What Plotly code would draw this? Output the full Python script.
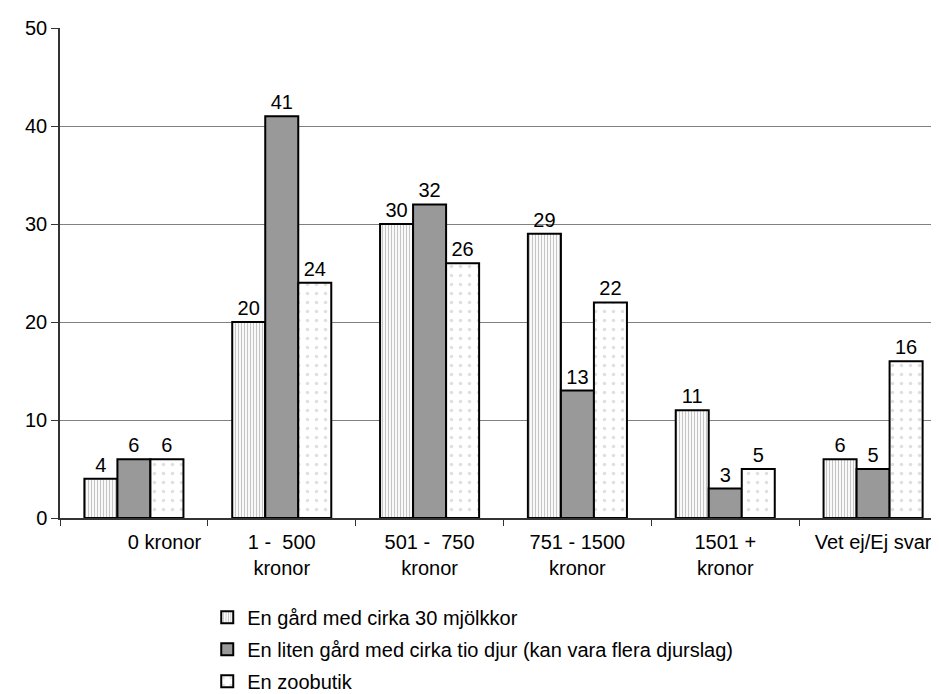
import plotly.graph_objects as go

categories = ["\u00a0" * 11 + "0 kronor", "1 -  500<br>kronor", "501 -  750<br>kronor",
              "751 - 1500<br>kronor", "1501 +<br>kronor", "Vet ej/Ej svar"]
series_names = ["En gård med cirka 30 mjölkkor",
                "En liten gård med cirka tio djur (kan vara flera djurslag)",
                "En zoobutik"]
s1 = [4, 20, 30, 29, 11, 6]
s2 = [6, 41, 32, 13, 3, 5]
s3 = [6, 24, 26, 22, 5, 16]
y_ticks = [0, 10, 20, 30, 40, 50]

FONT = "Liberation Sans, Arial, sans-serif"

fig = go.Figure()
styles = [
    dict(color="white", pattern=dict(shape="|", fgcolor="#8c8c8c", bgcolor="white", size=3, solidity=0.4)),
    dict(color="#999999"),
    dict(color="white", pattern=dict(shape=".", fgcolor="#c0c0c0", bgcolor="white", size=9, solidity=0.12)),
]
for i, (name, vals) in enumerate(zip(series_names, [s1, s2, s3])):
    m = dict(styles[i])
    m["line"] = dict(color="black", width=2)
    fig.add_trace(go.Bar(
        x=categories, y=vals, name=name, marker=m,
        text=[str(v) for v in vals], textposition="outside",
        textfont=dict(size=20, color="black", family=FONT),
        cliponaxis=False, legendgroup=f"g{i}",
    ))

fig.update_layout(
    width=939, height=694,
    margin=dict(l=52, r=0, t=20, b=184, autoexpand=False),
    paper_bgcolor="white", plot_bgcolor="white",
    barmode="group", bargap=0.33, bargroupgap=0,
    font=dict(family=FONT, size=20, color="black"),
    showlegend=True,
    legend=dict(orientation="v", x=0.166, xanchor="left", y=-0.163, yanchor="top",
                font=dict(size=20, family=FONT, color="black"),
                tracegroupgap=3, itemwidth=30, bgcolor="rgba(0,0,0,0)"),
)
fig.update_xaxes(
    type="category", tickson="boundaries", ticks="outside", ticklen=6,
    tickcolor="#333333", showline=True, linecolor="#333333", linewidth=1.5,
    showgrid=False, tickfont=dict(size=20, family=FONT, color="black"),
    tickangle=0, automargin=False, ticklabelstandoff=5,
)
fig.update_yaxes(
    range=[0, 50], tickvals=y_ticks, ticks="outside", ticklen=7,
    tickcolor="#333333", showline=True, linecolor="#333333", linewidth=1.5,
    showgrid=True, gridcolor="#808080", gridwidth=1, zeroline=False,
    tickfont=dict(size=20, family=FONT, color="black"), automargin=False,
)

fig.write_html("out.html")
